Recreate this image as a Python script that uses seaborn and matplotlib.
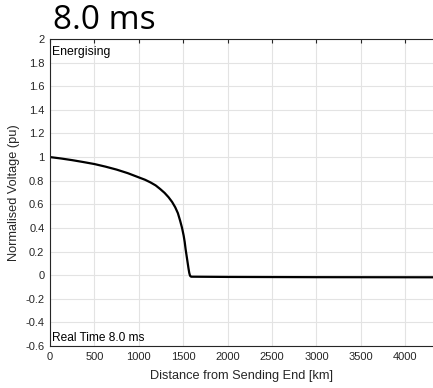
import matplotlib
matplotlib.use("Agg")
import matplotlib.pyplot as plt
import seaborn as sns
import pandas as pd

distance_km = [0, 125, 250, 375, 500, 625, 750, 875, 1000, 1070, 1130, 1190, 1240, 1290, 1335, 1375,
               1410, 1440, 1465, 1487, 1505, 1517, 1527, 1538, 1549, 1560, 1568, 1575, 1580, 1590,
               2000, 3000, 4320]
voltage_pu = [1.0, 0.988, 0.974, 0.958, 0.941, 0.919, 0.894, 0.864, 0.828, 0.808, 0.786, 0.760, 0.730,
              0.697, 0.660, 0.620, 0.575, 0.525, 0.462, 0.400, 0.335, 0.280, 0.220, 0.165, 0.110, 0.055,
              0.020, 0.000, -0.008, -0.013, -0.015, -0.017, -0.018]
x_ticks = [0, 500, 1000, 1500, 2000, 2500, 3000, 3500, 4000]
y_ticks = [-0.6, -0.4, -0.2, 0, 0.2, 0.4, 0.6, 0.8, 1, 1.2, 1.4, 1.6, 1.8, 2]
y_tick_labels = ["-0.6", "-0.4", "-0.2", "0", "0.2", "0.4", "0.6", "0.8", "1", "1.2", "1.4", "1.6", "1.8", "2"]

sns.set_style("white")
plt.rcParams['font.family'] = ['Liberation Sans', 'DejaVu Sans']

df = pd.DataFrame({"Distance": distance_km, "Voltage": voltage_pu})

fig = plt.figure(figsize=(4.33, 3.88), dpi=100)
ax = fig.add_axes([0.1155, 0.1082, 0.8845, 0.7913])
sns.lineplot(data=df, x="Distance", y="Voltage", ax=ax, color="black", linewidth=1.6)

ax.set_xlim(0, 4313)
ax.set_ylim(-0.6, 2)
ax.set_xticks(x_ticks)
ax.set_xticklabels([str(t) for t in x_ticks])
ax.set_yticks(y_ticks)
ax.set_yticklabels(y_tick_labels)
ax.grid(True, color="#e3e3e3", linewidth=0.8)
ax.tick_params(direction="in", length=3, width=0.8, labelsize=8, colors="#262626",
               top=True, right=False, labelcolor="#262626", pad=4)
for name, s in ax.spines.items():
    s.set_color("#262626")
    s.set_linewidth(0.8)
ax.spines["right"].set_visible(False)
ax.set_xlabel("Distance from Sending End [km]", fontsize=9.2, color="#262626", labelpad=6)
ax.set_ylabel("Normalised Voltage (pu)", fontsize=9.2, color="#262626", labelpad=4)

ax.text(0.005, 0.978, "Energising", transform=ax.transAxes, fontsize=8.8, va="top", ha="left", color="black")
ax.text(0.005, 0.008, "Real Time 8.0 ms", transform=ax.transAxes, fontsize=8.6, va="bottom", ha="left", color="black")

fig.text(0.122, 0.948, "8.0 ms", fontsize=24, family=["Open Sans", "DejaVu Sans"], va="center", ha="left", color="black")

fig.savefig("out.png", dpi=100)
